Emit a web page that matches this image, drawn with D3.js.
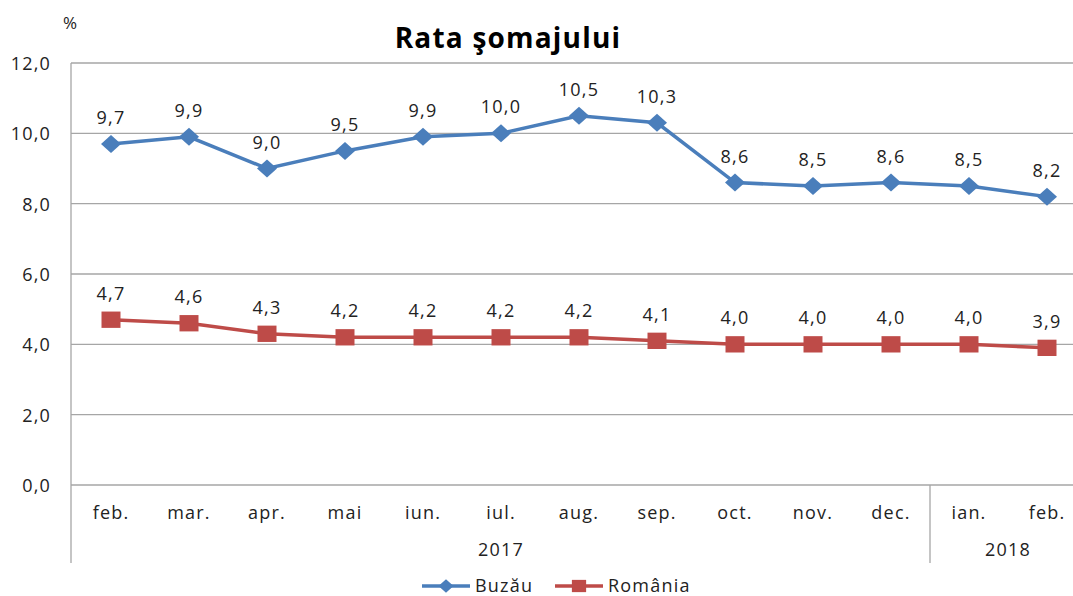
<!DOCTYPE html>
<html>
<head>
<meta charset="utf-8">
<script src="https://cdn.jsdelivr.net/npm/d3@7"></script>
<style>
  body { margin: 0; background: #fff; }
  svg { display: block; font-family: "Open Sans", "DejaVu Sans", sans-serif; }
  svg text { letter-spacing: 1.2px; }
</style>
</head>
<body>
<div id="chart"></div>
<script>
// data
var months = ["feb.", "mar.", "apr.", "mai", "iun.", "iul.", "aug.", "sep.", "oct.", "nov.", "dec.", "ian.", "feb."];
var years = [{ label: "2017", from: 0, to: 10 }, { label: "2018", from: 11, to: 12 }];
var buzau = [9.7, 9.9, 9.0, 9.5, 9.9, 10.0, 10.5, 10.3, 8.6, 8.5, 8.6, 8.5, 8.2];
var romania = [4.7, 4.6, 4.3, 4.2, 4.2, 4.2, 4.2, 4.1, 4.0, 4.0, 4.0, 4.0, 3.9];
var yTicks = [0, 2, 4, 6, 8, 10, 12];

var W = 1073, H = 596;
var fmt = function (v) { return d3.format(".1f")(v).replace(".", ","); };

var svg = d3.select("#chart").append("svg")
    .attr("width", W)
    .attr("height", H);

var x = d3.scaleBand()
    .domain(d3.range(months.length))
    .range([72, 1086]);

var y = d3.scaleLinear()
    .domain([0, 12])
    .range([485, 63]);

// marker shapes: a squat diamond and a slightly wide square
var diamond = function (sz) {
    var w = sz * 0.5, h = sz * 0.45;
    return "M0," + (-h) + "L" + w + ",0L0," + h + "L" + (-w) + ",0Z";
};
var square = function (sz) {
    var w = sz * 0.5, h = sz * 0.43;
    return "M" + (-w) + "," + (-h) + "H" + w + "V" + h + "H" + (-w) + "Z";
};

// gridlines
svg.append("g").selectAll("line")
    .data(yTicks)
  .enter().append("line")
    .attr("x1", 71).attr("x2", W)
    .attr("y1", function (d) { return y(d); })
    .attr("y2", function (d) { return y(d); })
    .attr("stroke", "#a6a6a6").attr("stroke-width", 1.3);

// y axis labels
svg.append("g").selectAll("text")
    .data(yTicks)
  .enter().append("text")
    .attr("x", 51)
    .attr("y", function (d) { return y(d) + 7; })
    .attr("text-anchor", "end")
    .attr("font-size", 18)
    .attr("fill", "#222")
    .text(fmt);

// vertical axis line + year divider
svg.append("line")
    .attr("x1", 71).attr("x2", 71).attr("y1", 63).attr("y2", 563)
    .attr("stroke", "#a6a6a6").attr("stroke-width", 1.3);

svg.append("g").selectAll("line")
    .data(years.slice(1))
  .enter().append("line")
    .attr("x1", function (d) { return x(d.from); })
    .attr("x2", function (d) { return x(d.from); })
    .attr("y1", 485).attr("y2", 563)
    .attr("stroke", "#a6a6a6").attr("stroke-width", 1.3);

// month labels
svg.append("g").selectAll("text")
    .data(months)
  .enter().append("text")
    .attr("x", function (d, i) { return x(i) + x.bandwidth() / 2; })
    .attr("y", 519)
    .attr("text-anchor", "middle")
    .attr("font-size", 18)
    .attr("fill", "#222")
    .text(function (d) { return d; });

// year labels
svg.append("g").selectAll("text")
    .data(years)
  .enter().append("text")
    .attr("x", function (d) { return (x(d.from) + x(d.to) + x.bandwidth()) / 2; })
    .attr("y", 556)
    .attr("text-anchor", "middle")
    .attr("font-size", 18)
    .attr("fill", "#222")
    .text(function (d) { return d.label; });

// title and unit
svg.append("text")
    .attr("x", 508).attr("y", 48)
    .attr("text-anchor", "middle")
    .attr("font-size", 28).attr("font-weight", "bold")
    .attr("fill", "#000")
    .text("Rata şomajului");

svg.append("text")
    .attr("x", 63).attr("y", 29)
    .attr("font-size", 17)
    .attr("fill", "#222")
    .text("%");

var cx = function (d, i) { return x(i) + x.bandwidth() / 2; };
var line = d3.line()
    .x(cx)
    .y(function (d) { return y(d); });

var series = [
    { name: "Buzău", values: buzau, color: "#4a7ebb", shape: diamond, size: 20 },
    { name: "România", values: romania, color: "#be4b48", shape: square, size: 19 }
];

series.forEach(function (s) {
    var g = svg.append("g");
    g.append("path")
        .datum(s.values)
        .attr("d", line)
        .attr("fill", "none")
        .attr("stroke", s.color)
        .attr("stroke-width", 3.5);

    g.selectAll("path.m")
        .data(s.values)
      .enter().append("path")
        .attr("class", "m")
        .attr("transform", function (d, i) { return "translate(" + cx(d, i) + "," + y(d) + ")"; })
        .attr("d", s.shape(s.size))
        .attr("fill", s.color);

    g.selectAll("text")
        .data(s.values)
      .enter().append("text")
        .attr("x", cx)
        .attr("y", function (d) { return y(d) - 20; })
        .attr("text-anchor", "middle")
        .attr("font-size", 18)
        .attr("fill", "#222")
        .text(fmt);
});

// legend
var legend = svg.append("g").attr("transform", "translate(0,586)");
var legendX = [422, 555];
series.forEach(function (s, i) {
    var lg = legend.append("g").attr("transform", "translate(" + legendX[i] + ",0)");
    lg.append("line")
        .attr("x1", 0).attr("x2", 48)
        .attr("stroke", s.color).attr("stroke-width", 3.5);
    lg.append("path")
        .attr("transform", "translate(24,0)")
        .attr("d", s.shape(s.size * 0.75))
        .attr("fill", s.color);
    lg.append("text")
        .attr("x", 53).attr("y", 6)
        .attr("font-size", 18)
        .attr("fill", "#222")
        .text(s.name);
});
</script>
</body>
</html>
